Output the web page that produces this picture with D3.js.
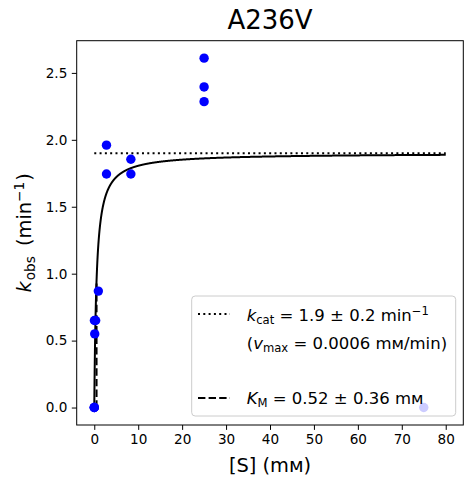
<!DOCTYPE html>
<html><head><meta charset="utf-8">
<script src="https://cdn.jsdelivr.net/npm/d3@7"></script>
<style>body{margin:0;background:#fff}svg{display:block;font-family:"DejaVu Sans",sans-serif}</style>
</head><body>
<script>
// measured substrate concentrations (mM) and observed rates (min^-1)
const substrate = [0, 0, 0, 0.034, 0.309, 0.103, 0.926, 2.78, 2.78, 8.33, 8.33, 25, 25, 25, 75];
const kobs      = [0, 0, 0, 0.65, 0.65, 0.55, 0.87, 1.96, 1.745, 1.855, 1.745, 2.61, 2.395, 2.285, 0];
// fitted parameters
const kcat = 1.9, KM = 0.52, sMax = 80;
const xTicks = [0, 10, 20, 30, 40, 50, 60, 70, 80];
const yTicks = [0.0, 0.5, 1.0, 1.5, 2.0, 2.5];

const W = 473, H = 484;
const m = {left: 76.7, right: 473 - 463.3, top: 40.7, bottom: 484 - 425};
const svg = d3.select("body").append("svg").attr("width", W).attr("height", H);

const x = d3.scaleLinear().domain([-4, 84]).range([m.left, W - m.right]);
const yMax = Math.max(d3.max(kobs), kcat), yPad = 0.05 * yMax;
const y = d3.scaleLinear().domain([-yPad, yMax + yPad]).range([H - m.bottom, m.top]);

// axes
const tickFont = "13.6px";
const gx = svg.append("g").attr("transform", `translate(0,${H - m.bottom})`)
  .call(d3.axisBottom(x).tickValues(xTicks).tickFormat(d3.format("d")).tickSize(4.9).tickPadding(4.5));
const gy = svg.append("g").attr("transform", `translate(${m.left},0)`)
  .call(d3.axisLeft(y).tickValues(yTicks).tickFormat(d3.format(".1f")).tickSize(4.9).tickPadding(4.5));
[gx, gy].forEach(g => {
  g.select(".domain").remove();
  g.selectAll("line").attr("stroke", "#000").attr("stroke-width", 1);
  g.selectAll("text").attr("font-size", tickFont).attr("fill", "#000").attr("font-family", "DejaVu Sans");
});
svg.append("rect").attr("x", m.left).attr("y", m.top)
  .attr("width", W - m.left - m.right).attr("height", H - m.top - m.bottom)
  .attr("fill", "none").attr("stroke", "#000").attr("stroke-width", 1);

// kcat dotted line
svg.append("line").attr("x1", x(0)).attr("x2", x(sMax)).attr("y1", y(kcat)).attr("y2", y(kcat))
  .attr("stroke", "#000").attr("stroke-width", 2).attr("stroke-dasharray", "2,3.3");
// KM dashed line
svg.append("line").attr("x1", x(KM)).attr("x2", x(KM)).attr("y1", y(0)).attr("y2", y(kcat / 2))
  .attr("stroke", "#000").attr("stroke-width", 2).attr("stroke-dasharray", "7.4,3.2");
// Michaelis-Menten fit curve
const sGrid = d3.range(0, 2001).map(i => sMax * Math.pow(i / 2000, 2));
svg.append("path").datum(sGrid)
  .attr("d", d3.line().x(s => x(s)).y(s => y(kcat * s / (KM + s))))
  .attr("fill", "none").attr("stroke", "#000").attr("stroke-width", 2);

// data points
svg.append("g").selectAll("circle").data(substrate.map((s, i) => [s, kobs[i]])).join("circle")
  .attr("cx", d => x(d[0])).attr("cy", d => y(d[1])).attr("r", 4.7).attr("fill", "#0000ff");

// title
svg.append("text").attr("x", (m.left + W - m.right) / 2).attr("y", 28.5).attr("text-anchor", "middle")
  .attr("font-size", "26px").text("A236V");
// x label
svg.append("text").attr("x", (m.left + W - m.right) / 2).attr("y", 472).attr("text-anchor", "middle")
  .attr("font-size", "19.4px").text("[S] (mм)");
// y label
const yl = svg.append("text").attr("transform", `translate(31,${(m.top + H - m.bottom) / 2}) rotate(-90)`)
  .attr("text-anchor", "middle").attr("font-size", "19.4px");
yl.append("tspan").attr("font-style", "italic").text("k");
yl.append("tspan").attr("font-size", "13.6px").attr("dy", 4).attr("dx", 1).text("obs");
yl.append("tspan").attr("dy", -4).attr("dx", 4).text(" (min");
yl.append("tspan").attr("font-size", "13.6px").attr("dy", -7.5).text("−1");
yl.append("tspan").attr("dy", 7.5).attr("dx", 1).text(")");

// legend
const lg = svg.append("g");
lg.append("rect").attr("x", 191.7).attr("y", 296).attr("width", 264).attr("height", 120).attr("rx", 3.5)
  .attr("fill", "#fff").attr("fill-opacity", 0.8).attr("stroke", "#cccccc").attr("stroke-width", 1);
const lfs = 16.5, sfs = 11.6, tx = 246.7;
lg.append("line").attr("x1", 198).attr("x2", 230).attr("y1", 314).attr("y2", 314)
  .attr("stroke", "#000").attr("stroke-width", 2).attr("stroke-dasharray", "2,3.3");
lg.append("line").attr("x1", 198).attr("x2", 230).attr("y1", 398).attr("y2", 398)
  .attr("stroke", "#000").attr("stroke-width", 2).attr("stroke-dasharray", "7.4,3.2");
const t1 = lg.append("text").attr("x", tx).attr("y", 321).attr("font-size", lfs + "px");
t1.append("tspan").attr("font-style", "italic").text("k");
t1.append("tspan").attr("font-size", sfs + "px").attr("dy", 3).text("cat");
t1.append("tspan").attr("dy", -3).text(" = 1.9 ± 0.2 min");
t1.append("tspan").attr("font-size", sfs + "px").attr("dy", -6.5).text("−1");
const t2 = lg.append("text").attr("x", tx).attr("y", 349).attr("font-size", lfs + "px");
t2.append("tspan").text("(");
t2.append("tspan").attr("font-style", "italic").text("v");
t2.append("tspan").attr("font-size", sfs + "px").attr("dy", 3).text("max");
t2.append("tspan").attr("dy", -3).text(" = 0.0006 mм/min)");
const t3 = lg.append("text").attr("x", tx).attr("y", 404).attr("font-size", lfs + "px");
t3.append("tspan").attr("font-style", "italic").text("K");
t3.append("tspan").attr("font-size", sfs + "px").attr("dy", 3).text("M");
t3.append("tspan").attr("dy", -3).text(" = 0.52 ± 0.36 mм");
</script>
</body></html>
